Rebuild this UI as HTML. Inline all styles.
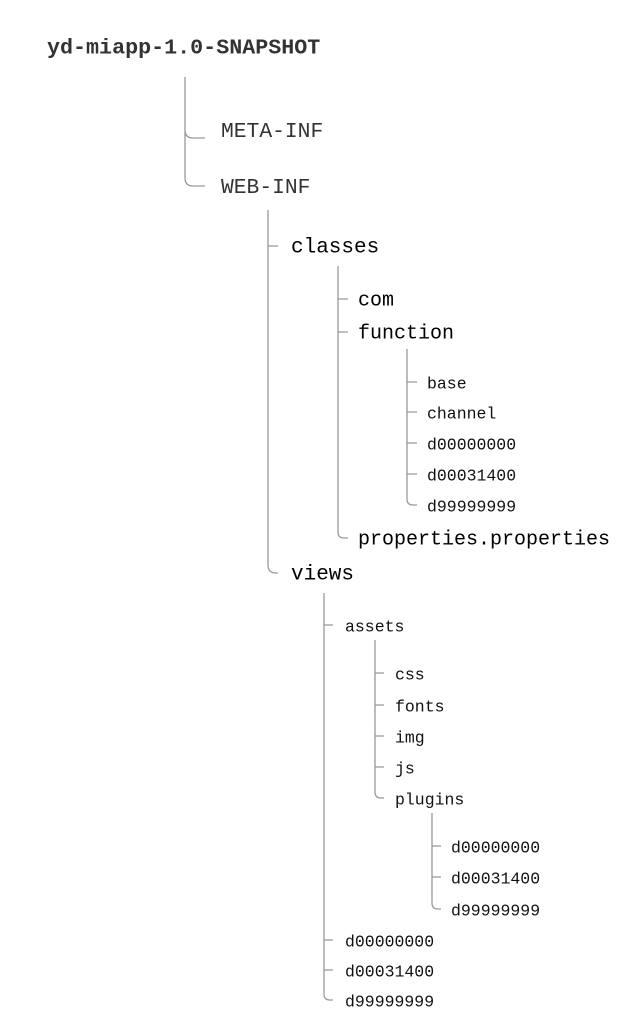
<!DOCTYPE html>
<html><head><meta charset="utf-8"><style>
html,body{margin:0;padding:0;background:#fff;}
svg{display:block;}
text{font-family:"Liberation Mono","DejaVu Sans Mono",monospace;dominant-baseline:central;}
</style></head><body>
<svg width="640" height="1033" viewBox="0 0 640 1033" xmlns="http://www.w3.org/2000/svg">
<g fill="none" stroke="#999" stroke-width="1.3">
<path d="M185 77 V178 Q185 186 193 186 H205 M185 130 Q185 138 193 138 H205"/>
<path d="M268 210 V565 Q268 573 276 573 H278 M268 246 H278"/>
<path d="M338 266 V532 Q338 538 344 538 H348 M338 299 H348 M338 332 H348"/>
<path d="M407 349 V499 Q407 505 413 505 H417 M407 382 H417 M407 412 H417 M407 443 H417 M407 474 H417"/>
<path d="M324 593 V994 Q324 1000 330 1000 H333 M324 625 H333 M324 940 H333 M324 970 H333"/>
<path d="M375 640 V792 Q375 798 381 798 H384 M375 673 H384 M375 705 H384 M375 736 H384 M375 767 H384"/>
<path d="M432 813 V903 Q432 909 438 909 H441 M432 846 H441 M432 877 H441"/>
</g>
<g transform="translate(0,2)">
<text x="47" y="46" font-size="21.7" font-weight="bold" fill="#333">yd-miapp-1.0-SNAPSHOT</text>
<g font-size="21.3" fill="#333">
<text x="221" y="130">META-INF</text>
<text x="221" y="186">WEB-INF</text>
</g>
<g font-size="21" fill="#000">
<text x="291" y="246">classes</text>
<text x="291" y="573">views</text>
</g>
<g font-size="20" fill="#000">
<text x="358" y="299">com</text>
<text x="358" y="332">function</text>
<text x="358" y="538">properties.properties</text>
</g>
<g font-size="16.5" fill="#111">
<text x="427" y="382">base</text>
<text x="427" y="412">channel</text>
<text x="427" y="443">d00000000</text>
<text x="427" y="474">d00031400</text>
<text x="427" y="505">d99999999</text>
<text x="345" y="625">assets</text>
<text x="395" y="673">css</text>
<text x="395" y="705">fonts</text>
<text x="395" y="736">img</text>
<text x="395" y="767">js</text>
<text x="395" y="798">plugins</text>
<text x="451" y="846">d00000000</text>
<text x="451" y="877">d00031400</text>
<text x="451" y="909">d99999999</text>
<text x="345" y="940">d00000000</text>
<text x="345" y="970">d00031400</text>
<text x="345" y="1000">d99999999</text>
</g>
</g>
</svg>
</body></html>
